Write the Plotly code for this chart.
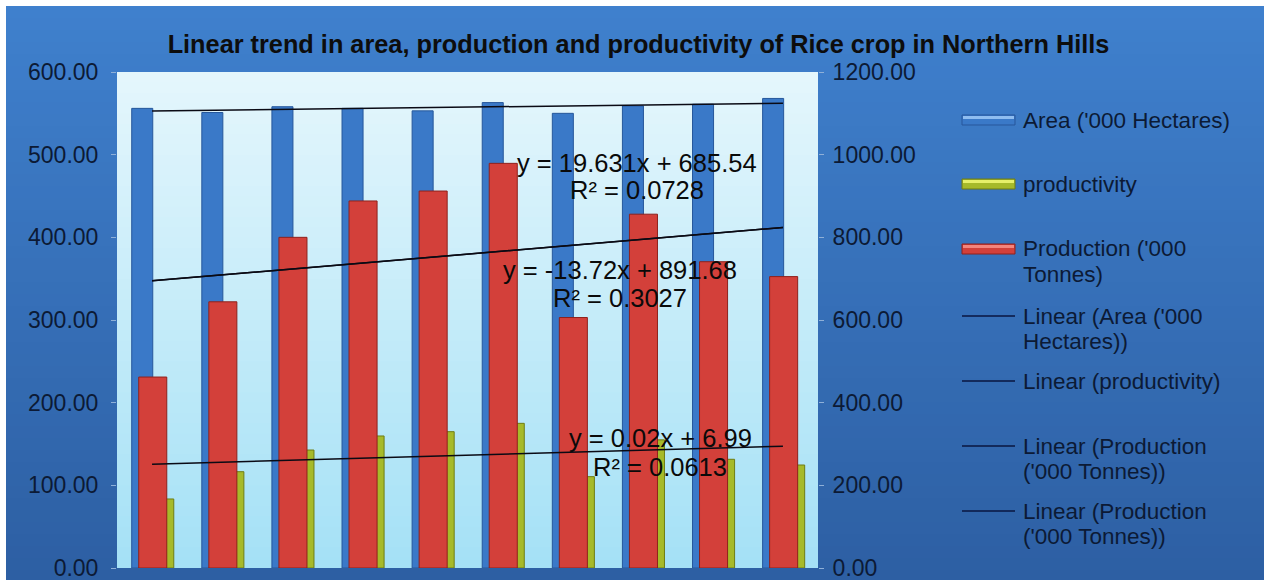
import numpy as np
import plotly.graph_objects as go

# ---------------- data ----------------
periods = list(range(1, 11))
area = [556, 551, 558, 556, 553, 563, 550, 559, 561, 568]            # '000 Hectares (left axis)
productivity = [83.5, 116.5, 142.7, 159.7, 164.9, 175, 110.5, 155, 131.5, 124.6]  # left axis
production = [462, 644, 800, 888, 912, 979, 606, 856, 741, 705]      # '000 Tonnes (right axis)

left_ticks = [0, 100, 200, 300, 400, 500, 600]
right_ticks = [0, 200, 400, 600, 800, 1000, 1200]

title_text = "Linear trend in area, production and productivity of Rice crop in Northern Hills"
eq_area = ["y = 19.631x + 685.54", "R² = 0.0728"]
eq_prod = ["y = -13.72x + 891.68", "R² = 0.3027"]
eq_pty = ["y = 0.02x + 6.99", "R² = 0.0613"]

legend_labels = [
    ["Area ('000 Hectares)"],
    ["productivity"],
    ["Production ('000", "Tonnes)"],
    ["Linear (Area ('000", "Hectares))"],
    ["Linear (productivity)"],
    ["Linear (Production", "('000 Tonnes))"],
    ["Linear (Production", "('000 Tonnes))"],
]

# ---------------- layout geometry ----------------
W, H = 1264, 580
L, R, T, B = 117, 818, 72, 568
pw, ph = R - L, B - T


def px(x):
    return (x - L) / pw


def py(y):
    return (B - y) / ph


FONT = "Liberation Sans, Arial, sans-serif"
TXT = "#0c1a35"
BLUE, BLUE_D, BLUE_L = "#3a79c8", "#26579b", "#8fbdf0"
YEL, YEL_D, YEL_L = "#a6ba2a", "#6f7d14", "#e6f06a"
RED, RED_D, RED_L = "#d3403a", "#8f211c", "#f3857d"
LINE = "#0a0a14"


def trend(vals):
    k, b = np.polyfit(periods, vals, 1)
    xs = np.array([periods[0], periods[-1]], dtype=float)
    return xs, k * xs + b


fig = go.Figure()

fig.add_trace(go.Bar(
    x=periods, y=area, name="Area ('000 Hectares)", yaxis="y",
    offset=-0.29, width=0.30,
    marker=dict(color=BLUE, line=dict(color=BLUE_D, width=1)),
))
fig.add_trace(go.Bar(
    x=periods, y=productivity, name="productivity", yaxis="y",
    offset=0.01, width=0.30,
    marker=dict(color=YEL, line=dict(color=YEL_D, width=1)),
))
fig.add_trace(go.Bar(
    x=periods, y=production, name="Production ('000 Tonnes)", yaxis="y2",
    offset=-0.19, width=0.40,
    marker=dict(color=RED, line=dict(color=RED_D, width=1)),
))

tx, ty = trend(area)
fig.add_trace(go.Scatter(x=tx, y=ty, mode="lines", yaxis="y3",
                         name="Linear (Area ('000 Hectares))",
                         line=dict(color=LINE, width=1.5)))
tx, ty = trend(productivity)
fig.add_trace(go.Scatter(x=tx, y=ty, mode="lines", yaxis="y3",
                         name="Linear (productivity)",
                         line=dict(color=LINE, width=1.5)))
tx, ty = trend(production)
fig.add_trace(go.Scatter(x=tx, y=ty, mode="lines", yaxis="y4",
                         name="Linear (Production ('000 Tonnes))",
                         line=dict(color=LINE, width=1.5)))
fig.add_trace(go.Scatter(x=tx, y=ty, mode="lines", yaxis="y4",
                         name="Linear (Production ('000 Tonnes))",
                         line=dict(color=LINE, width=1.5)))

for tr in fig.data:
    tr.hoverinfo = "skip"
    tr.showlegend = False

# ---------------- gradient backgrounds (overlapping bands, no seams) ----------------
shapes = []


def lerp(c1, c2, t):
    a = [int(c1[i:i + 2], 16) for i in (1, 3, 5)]
    b = [int(c2[i:i + 2], 16) for i in (1, 3, 5)]
    return "rgb(%d,%d,%d)" % tuple(round(a[j] + (b[j] - a[j]) * t) for j in range(3))


n = 48
top_y, bot_y = 6, 582
for i in range(n):
    y0 = top_y + (bot_y - top_y) * i / n
    shapes.append(dict(type="rect", xref="paper", yref="paper", layer="below",
                       x0=px(6), x1=px(W + 2), y0=py(y0), y1=py(bot_y),
                       line=dict(width=0), fillcolor=lerp("#3f80cd", "#2d5fa3", i / (n - 1))))
for i in range(n):
    y0 = T + ph * i / n
    shapes.append(dict(type="rect", xref="paper", yref="paper", layer="below",
                       x0=0, x1=1, y0=py(y0), y1=0,
                       line=dict(width=0), fillcolor=lerp("#e4f6fc", "#a5e1f6", i / (n - 1))))

ann = []
# trend equations
for lines, cx, cys in [(eq_area, 637, (163, 190)), (eq_prod, 620, (270, 298)),
                       (eq_pty, 660, (438, 467))]:
    for text, cy in zip(lines, cys):
        ann.append(dict(text=text, xref="paper", yref="paper", x=px(cx), y=py(cy),
                        xanchor="center", yanchor="middle", showarrow=False,
                        font=dict(family=FONT, size=25.5, color="#0a0a0a")))

# manual legend (Excel-style wide symbols)
leg_first_y = [120, 184, 249, 316, 381, 446, 511]
leg_kind = ["bar", "bar", "bar", "line", "line", "line", "line"]
leg_cols = [(BLUE, BLUE_D, BLUE_L), (YEL, YEL_D, YEL_L), (RED, RED_D, RED_L),
            None, None, None, None]
sx0, sx1, tx0 = 962, 1015, 1021
line_gap = 25
for lines, y, kind, cols in zip(legend_labels, leg_first_y, leg_kind, leg_cols):
    if kind == "bar":
        c, cd, cl = cols
        shapes.append(dict(type="rect", xref="paper", yref="paper", layer="above",
                           x0=px(sx0), x1=px(sx1), y0=py(y + 5), y1=py(y - 5),
                           line=dict(color=cd, width=1), fillcolor=c))
        shapes.append(dict(type="rect", xref="paper", yref="paper", layer="above",
                           x0=px(sx0 + 1), x1=px(sx1 - 1), y0=py(y - 1), y1=py(y - 4),
                           line=dict(width=0), fillcolor=cl))
    else:
        shapes.append(dict(type="line", xref="paper", yref="paper", layer="above",
                           x0=px(sx0), x1=px(sx1), y0=py(y), y1=py(y),
                           line=dict(color="#0a1640", width=1.5)))
    for k, text in enumerate(lines):
        ann.append(dict(text=text, xref="paper", yref="paper", x=px(tx0),
                        y=py(y + k * line_gap), xanchor="left", yanchor="middle",
                        showarrow=False, font=dict(family=FONT, size=22.5, color=TXT)))

fig.update_layout(
    width=W, height=H,
    margin=dict(l=L, r=W - R, t=T, b=H - B, pad=0, autoexpand=False),
    paper_bgcolor="white",
    plot_bgcolor="rgba(0,0,0,0)",
    barmode="overlay",
    shapes=shapes,
    annotations=ann,
    title=dict(text="<b>" + title_text + "</b>", x=638.5 / W, xanchor="center",
               y=1 - 44 / H, yanchor="middle", automargin=False,
               font=dict(family=FONT, size=25.3, color="#0d0d0d")),
    font=dict(family=FONT, size=23, color=TXT),
    xaxis=dict(range=[0.5, 10.5], showticklabels=False, showgrid=False, zeroline=False,
               ticks="", showline=False, fixedrange=True, automargin=False),
    yaxis=dict(range=[0, 600], tickvals=left_ticks, tickformat=".2f", showgrid=False,
               zeroline=False, ticks="outside", ticklen=5, tickcolor="#8fb0d8",
               ticklabelstandoff=8, ticklabeloverflow="allow", automargin=False,
               tickfont=dict(family=FONT, size=23, color=TXT), showline=False),
    yaxis2=dict(range=[0, 1200], tickvals=right_ticks, tickformat=".2f", overlaying="y",
                side="right", showgrid=False, zeroline=False, ticks="outside", ticklen=5,
                tickcolor="#8fb0d8", ticklabelstandoff=4, ticklabeloverflow="allow",
                automargin=False,
                tickfont=dict(family=FONT, size=23, color=TXT), showline=False),
    yaxis3=dict(range=[0, 600], overlaying="y", visible=False),
    yaxis4=dict(range=[0, 1200], overlaying="y", visible=False),
    showlegend=False,
)

fig.write_html("out.html", config={"displayModeBar": False})
